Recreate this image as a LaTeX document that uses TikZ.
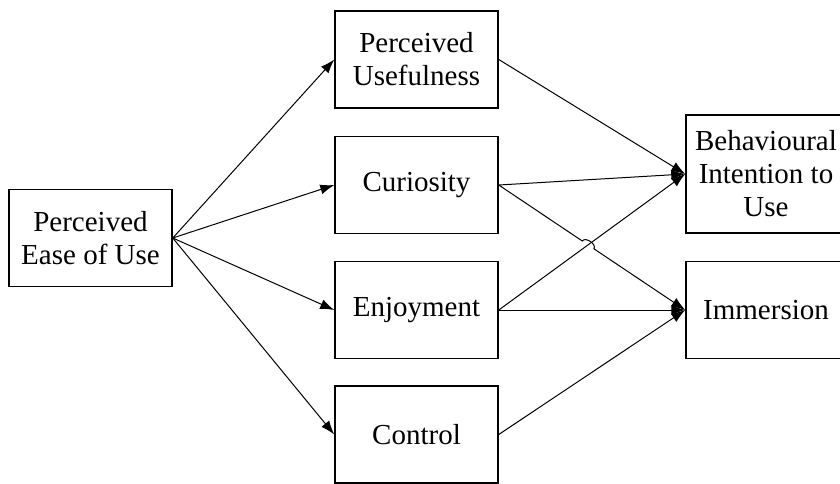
\documentclass[tikz,border=0pt]{standalone}
\usepackage{fontspec}
\setmainfont{Liberation Serif}
\usetikzlibrary{arrows.meta, positioning, calc, intersections}

\begin{document}
\begin{tikzpicture}[x=0.5pt,y=-0.5pt]
  \tikzstyle{factor} = [rectangle,draw,line width=0.75pt,fill=white,align=center,
    minimum width=81.5pt,minimum height=48.5pt,inner sep=2pt,
    font=\fontsize{14.5}{16.5}\selectfont]
  \tikzstyle{influence} = [-{Latex[length=7pt,width=5pt]}, line width=0.5pt]
  \useasboundingbox (0,0) rectangle (840,483);
  \node[factor] at (90.5,238) (peu) {Perceived\\Ease of Use};
  \node[factor] at (416.5,59.5) (pu) {Perceived\\Usefulness};
  \node[factor] at (416.5,185) (cur) {Curiosity};
  \node[factor] at (416.5,310) (enj) {Enjoyment};
  \node[factor] at (416.5,434.5) (ctl) {Control};
  \node[factor,minimum width=80pt,minimum height=59pt] at (766,174) (bi) {Behavioural\\Intention to\\Use};
  \node[factor,minimum width=80pt] at (766,310) (imm) {Immersion};
  % ease of use to the four middle factors
  \draw[influence] (peu.east) -- (pu.west);
  \draw[influence] (peu.east) -- (cur.west);
  \draw[influence] (peu.east) -- (enj.west);
  \draw[influence] (peu.east) -- (ctl.west);
  % middle factors to outcomes
  \draw[influence] (pu.east) -- (bi.west);
  \draw[influence] (cur.east) -- (bi.west);
  \draw[influence, name path=enjbi] (enj.east) -- (bi.west);
  \path[name path=curimm] (cur.east) -- (imm.west);
  \path[name intersections={of=curimm and enjbi, by=hop}];
  \draw[influence] (cur.east) -- ($(hop)!3.5pt!(cur.east)$)
    to[bend left=90] ($(hop)!3.5pt!(imm.west)$) -- (imm.west);
  \draw[influence] (enj.east) -- (imm.west);
  \draw[influence] (ctl.east) -- (imm.west);
\end{tikzpicture}
\end{document}
